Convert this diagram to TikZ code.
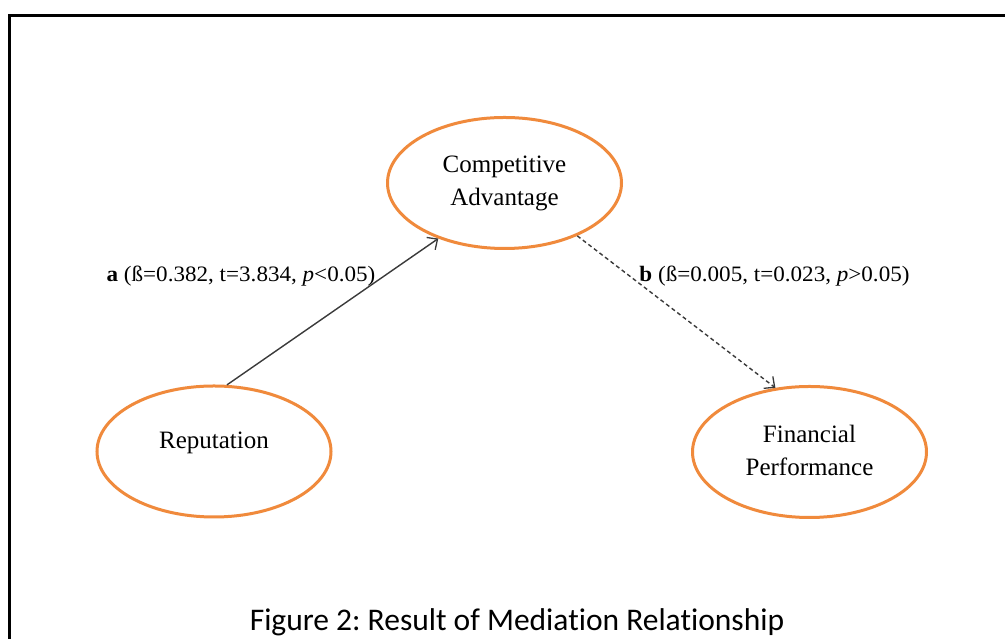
\documentclass[tikz,border=0pt]{standalone}
\usepackage{fontspec}
\setmainfont{Liberation Serif}
\newfontfamily\capfont[Ligatures=NoCommon]{Carlito}
\usetikzlibrary{shapes.geometric,arrows.meta}
\definecolor{ellorange}{HTML}{F08A3C}
\definecolor{arrowgray}{HTML}{3A3A3A}
\tikzset{
  var/.style={draw=ellorange, line width=3pt, ellipse, minimum width=234pt, minimum height=131pt, inner sep=0pt, align=center, font=\fontsize{25}{33}\selectfont},
  path lbl/.style={font=\fontsize{22}{26}\selectfont, inner sep=0pt, xscale=1.05},
  conn/.style={draw=arrowgray, line width=1.4pt, -{Straight Barb[length=8pt,width=15pt,line width=1.3pt]}},
  dconn/.style={conn, dash pattern=on 4pt off 3pt},
}
\begin{document}
\frenchspacing
\begin{tikzpicture}[x=1pt,y=1pt]
\useasboundingbox (0,0) rectangle (1005,639);
\clip (0,0) rectangle (1005,639);
\fill[white] (0,0) rectangle (1005,639);
\draw[line width=3pt] (9,-20) -- (9,623.7) -- (1030,623.7);
\node[var] (ca) at (504.5,456) {Competitive\\Advantage};
\node[var] (rep) at (214,187.5) {\raisebox{22pt}{Reputation}};
\node[var] (fp) at (809.5,187) {\raisebox{6pt}{\begin{tabular}{@{}c@{}}Financial\\Performance\end{tabular}}};
\draw[conn] (rep.79) -- (ca.220.8);
\draw[dconn] (ca.324.7) -- (fp.118.6);
\node[path lbl] (la) at (241,363) {\textbf{a} (ß=0.382, t=3.834, \textit{p}<0.05)};
\node[path lbl] (lb) at (774.5,363) {\textbf{b} (ß=0.005, t=0.023, \textit{p}>0.05)};
\node[font=\capfont\fontsize{31.5}{34}\selectfont, anchor=base, inner sep=0pt] (cap) at (517,8) {Figure 2: Result of Mediation Relationship};
\end{tikzpicture}
\end{document}
